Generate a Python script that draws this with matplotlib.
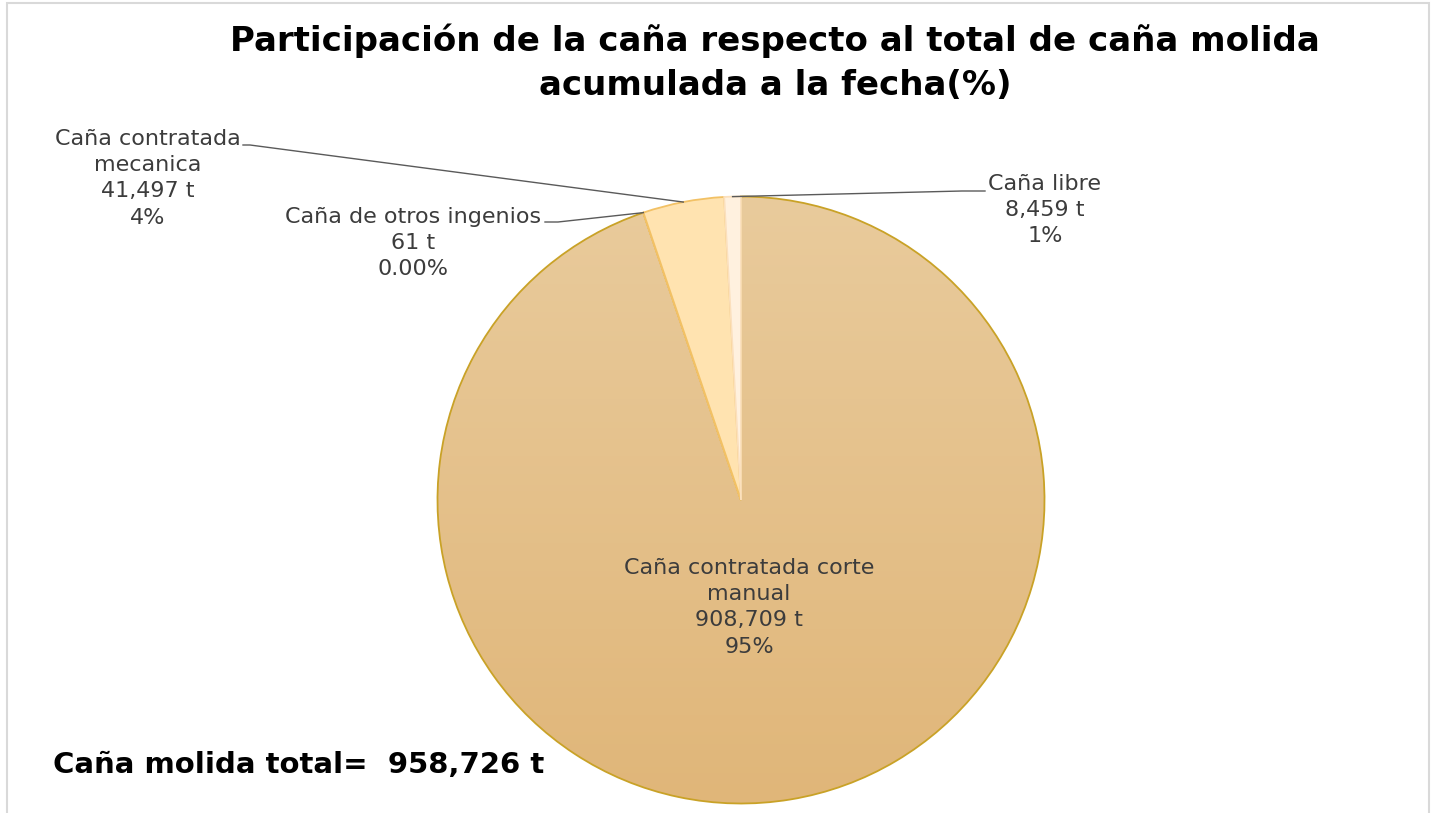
import numpy as np
import matplotlib
matplotlib.use("Agg")
import matplotlib.pyplot as plt
from matplotlib.colors import LinearSegmentedColormap
from matplotlib.lines import Line2D
from matplotlib.patches import Rectangle
from matplotlib.transforms import IdentityTransform

# ---- data ----
categories = ["Caña contratada corte\nmanual", "Caña de otros ingenios",
              "Caña contratada\nmecanica", "Caña libre"]
values = [908709, 61, 41497, 8459]
pct_labels = ["95%", "0.00%", "4%", "1%"]
total_label = "Caña molida total=  958,726 t"
title = "Participación de la caña respecto al total de caña molida\nacumulada a la fecha(%)"

plt.rcParams['font.family'] = ['DejaVu Sans']

W, H = 1436, 813
fig = plt.figure(figsize=(W / 100, H / 100), dpi=100)
fig.patch.set_facecolor("white")

# frame border
fig.add_artist(Rectangle((6.5 / W, -0.02), (1429 - 6.5) / W, (H - 3.5) / H + 0.02,
                         transform=fig.transFigure, fill=False,
                         edgecolor="#d9d9d9", linewidth=1.5))

cx, cy, R = 741, 500, 303.5
ax = fig.add_axes([(cx - R) / W, (H - cy - R) / H, 2 * R / W, 2 * R / H])
face = ["#e4c28e", "#ffe3b0", "#ffe3b0", "#fff1df"]
edges = ["#c9a227", "#f2c165", "#f2c165", "#fbe0bd"]
wedges, _ = ax.pie(values, startangle=90, counterclock=False, radius=1.0,
                   colors=face, wedgeprops=dict(linewidth=1.3))
for w, ec in zip(wedges, edges):
    w.set_edgecolor(ec)
ax.set_xlim(-1, 1)
ax.set_ylim(-1, 1)
ax.set_aspect("equal")
ax.axis("off")

# gradient for the main slice
cmap = LinearSegmentedColormap.from_list("g", ["#e0b679", "#e9cb9c"])
grad = np.linspace(0, 1, 256).reshape(-1, 1)
wedges[0].set_facecolor("none")
im = ax.imshow(grad, extent=(-1, 1, -1, 1), origin="lower", cmap=cmap,
               aspect="auto", zorder=0.5)
im.set_clip_path(wedges[0])
wedges[0].set_zorder(1)
for w in wedges[1:]:
    w.set_zorder(2)

txtcol = "#3c3c3c"
fs = 16

def fig_xy(px, py):
    return px / W, 1 - py / H

labels = [f"{c}\n{v:,} t\n{p}" for c, v, p in zip(categories, values, pct_labels)]

# label positions (pixel centers of first line) and leader elbows
label_pos = [(749, 567), (413, 216), (148, 138), (1045, 183)]
elbows = [None, (545, 558, 222), (243, 250, 145), (985, 962, 191)]

for i, (w, lab, pos) in enumerate(zip(wedges, labels, label_pos)):
    fx, fy = fig_xy(*pos)
    fig.text(fx, fy + 9 / H, lab, ha="center", va="top", fontsize=fs,
             color=txtcol, linespacing=1.39)
    if elbows[i] is not None:
        ang = np.deg2rad((w.theta1 + w.theta2) / 2)
        ex, ey = ax.transData.transform((np.cos(ang), np.sin(ang)))
        x0, x1, yy = elbows[i]
        ydisp = H - yy
        fig.add_artist(Line2D([x0, x1, ex], [ydisp, ydisp, ey],
                              transform=IdentityTransform(),
                              color="#5a5a5a", linewidth=1.0))

fig.text(775 / W, 1 - 24 / H, title, ha="center", va="top", fontsize=24.5,
         fontweight="bold", color="black", linespacing=1.41)
fig.text(53 / W, 1 - 765 / H, total_label, ha="left", va="center",
         fontsize=21, fontweight="bold", color="black")

fig.savefig("out.png", dpi=100)
